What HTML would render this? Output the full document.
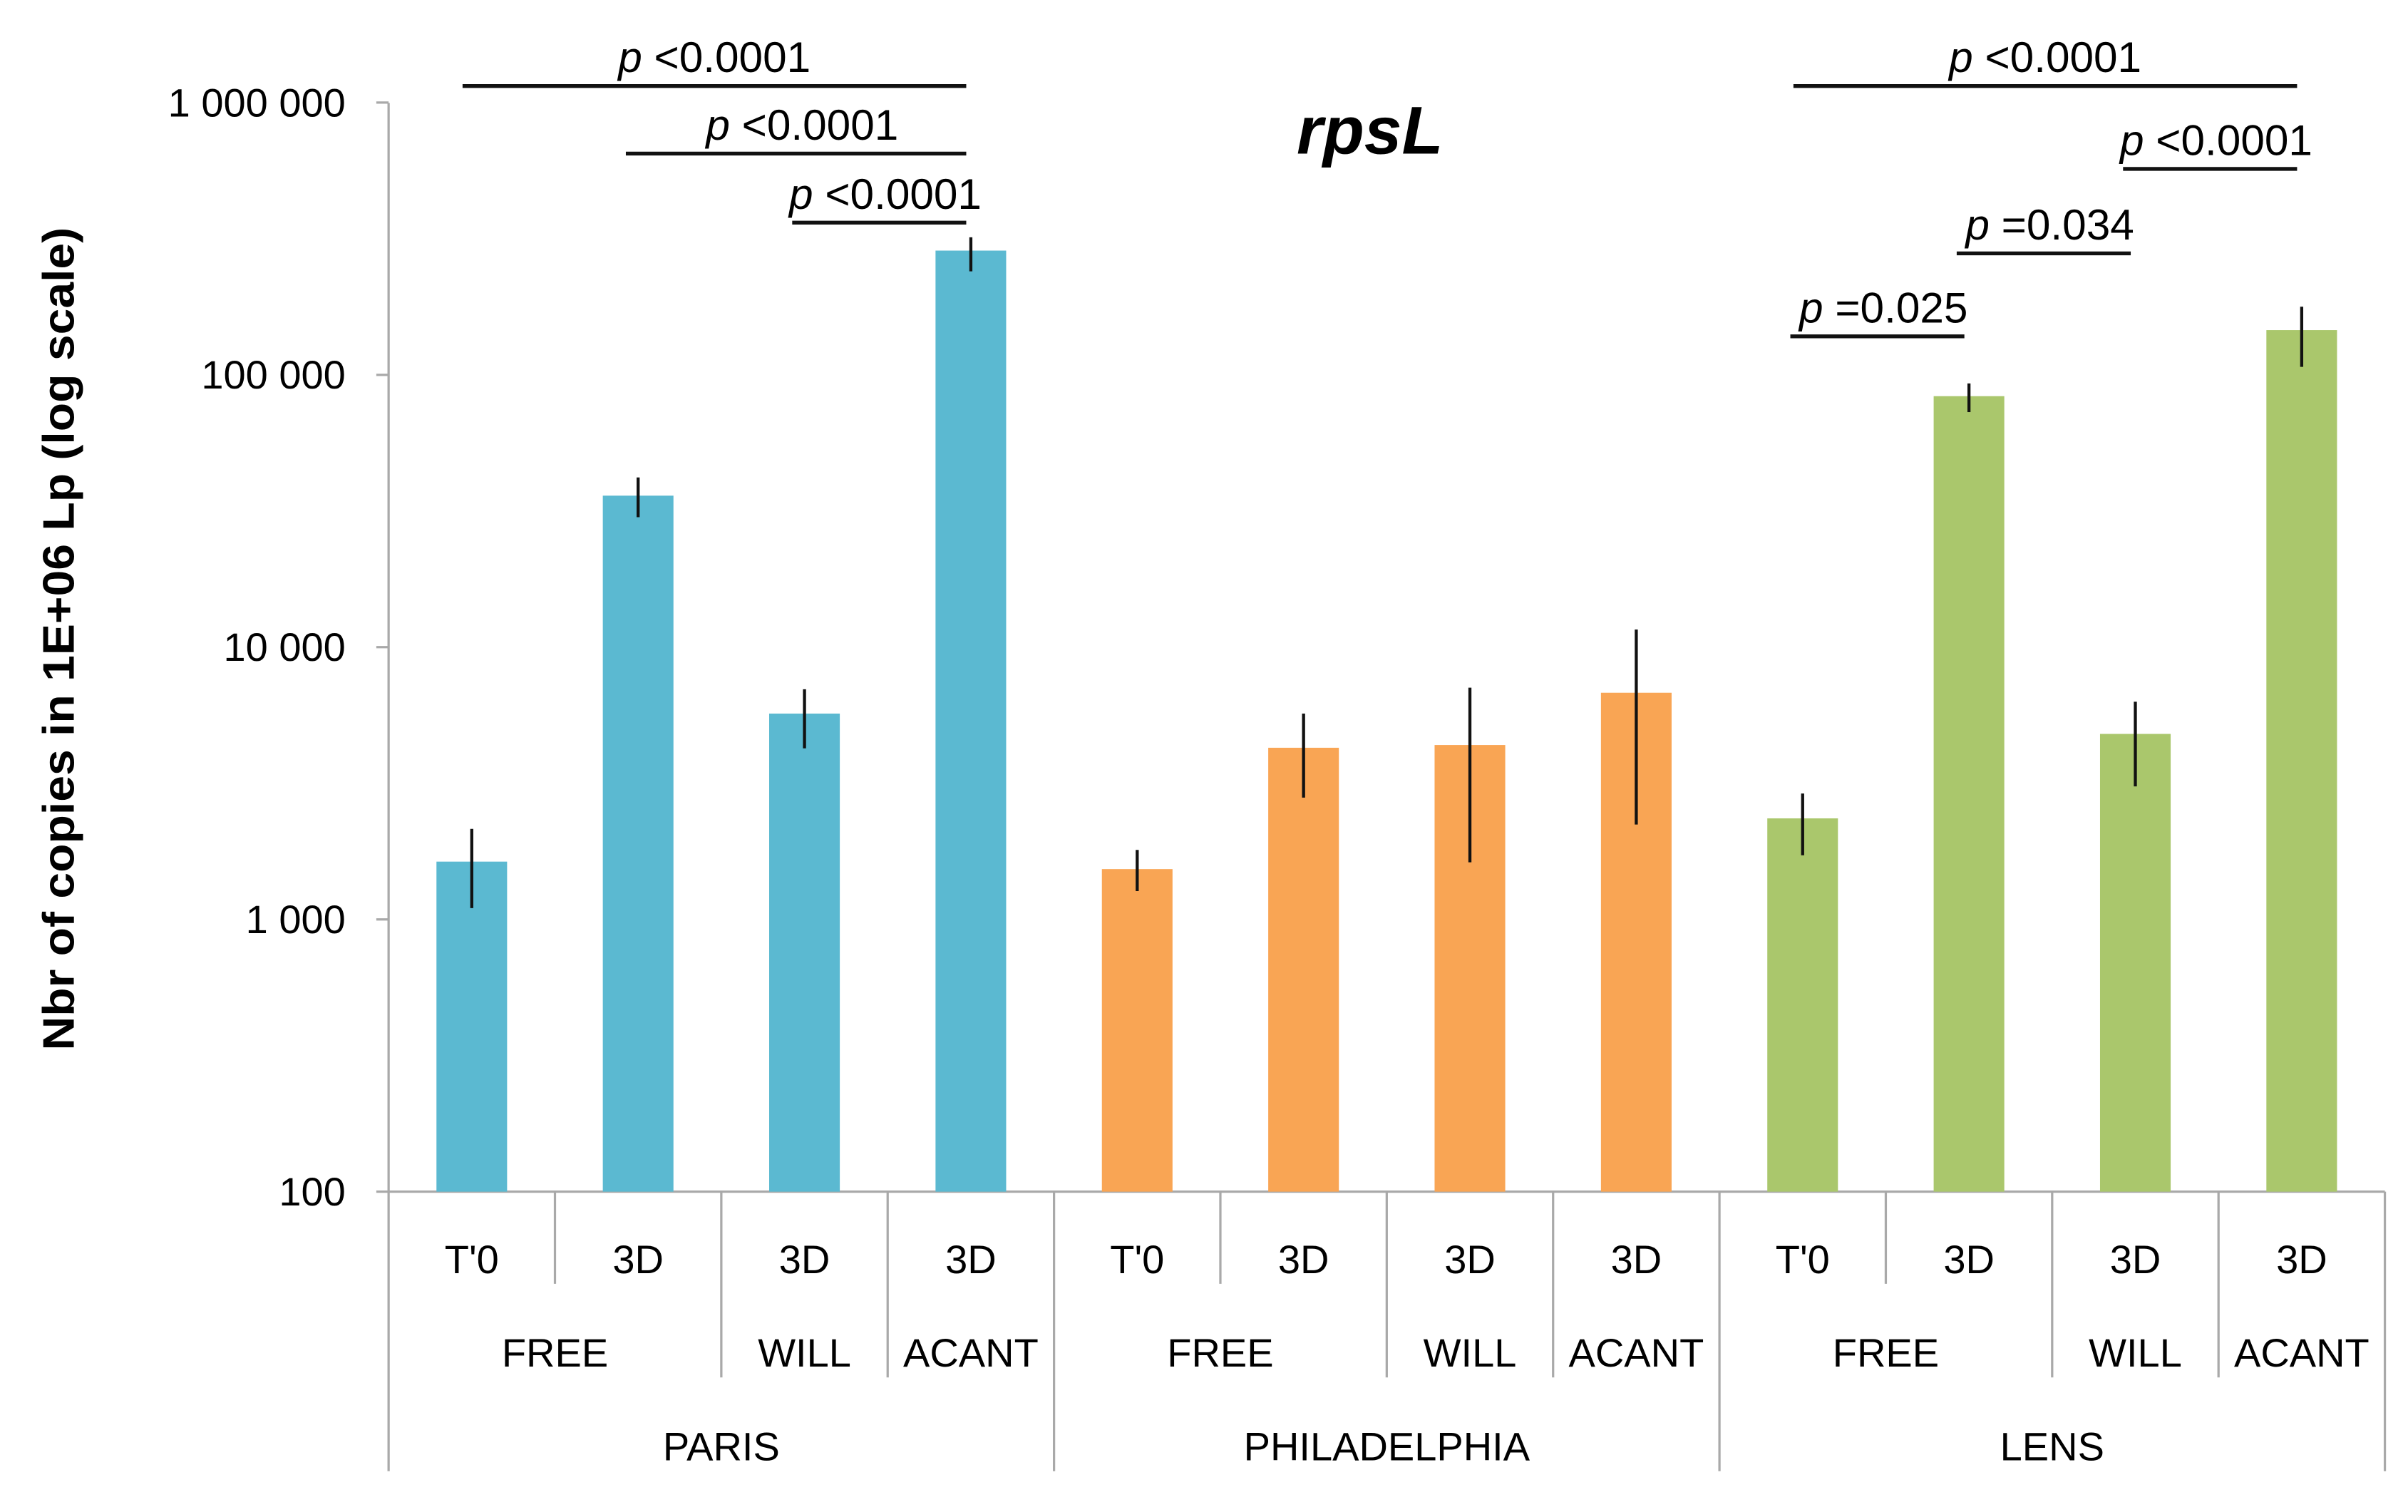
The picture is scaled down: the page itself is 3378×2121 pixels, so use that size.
<!DOCTYPE html>
<html><head><meta charset="utf-8"><style>
html,body{margin:0;padding:0;background:#fff;}
svg{display:block;}
text{font-family:"Liberation Sans",sans-serif;}
</style></head><body>
<svg id="chart" width="3378" height="2121" viewBox="0 0 1568 984.6" xmlns="http://www.w3.org/2000/svg">
<text x="892" y="100" font-size="44" font-weight="bold" font-style="italic" text-anchor="middle">rpsL</text>
<text transform="translate(48,416) rotate(-90)" font-size="29" font-weight="bold" text-anchor="middle" textLength="536" lengthAdjust="spacingAndGlyphs">Nbr of copies in 1E+06 Lp (log scale)</text>
<g id="axes"></g><g id="bars"></g><g id="sig"></g>
</svg>
<script>
const categories = ["T'0","3D","3D","3D","T'0","3D","3D","3D","T'0","3D","3D","3D"];
const subgroups = [["FREE",2],["WILL",1],["ACANT",1],["FREE",2],["WILL",1],["ACANT",1],["FREE",2],["WILL",1],["ACANT",1]];
const groups = [["PARIS",4],["PHILADELPHIA",4],["LENS",4]];
const values = [1630,36000,5700,286000,1530,4270,4370,6800,2350,83500,4800,146000];
const errHi = [2150,42000,7000,320000,1800,5700,7100,11600,2900,93000,6300,178000];
const errLo = [1100,30000,4250,240000,1270,2800,1620,2230,1720,73000,3080,107000];
const colors = ["#5BB9D1","#5BB9D1","#5BB9D1","#5BB9D1","#F9A554","#F9A554","#F9A554","#F9A554","#AAC76C","#AAC76C","#AAC76C","#AAC76C"];
const yTicks = [100,1000,10000,100000,1000000];
const yTickLabels = ["100","1 000","10 000","100 000","1 000 000"];
const sigFrom = [0,1,2,8,10,9,8];
const sigTo = [3,3,3,11,11,10,9];
const sigLabels = ["p <0.0001","p <0.0001","p <0.0001","p <0.0001","p <0.0001","p =0.034","p =0.025"];
const sigY = [56,100,145,56,110,165,219];

const NS="http://www.w3.org/2000/svg";
const x0=253,x1=1553,yBase=776,decade=177.3;
const cw=(x1-x0)/categories.length;
const yS=v=>yBase-(Math.log10(v)-2)*decade;
const xC=i=>x0+cw*(i+0.5);
function mk(tag,attrs,parent,txt){const e=document.createElementNS(NS,tag);for(const k in attrs)e.setAttribute(k,attrs[k]);if(txt!==undefined)e.textContent=txt;parent.appendChild(e);return e;}
const axes=document.getElementById('axes'),bars=document.getElementById('bars'),sig=document.getElementById('sig');
const gray="#A9A9A9";
let e=mk('line',{x1:x0,y1:67,x2:x0,y2:958,stroke:gray,'stroke-width':1.5},axes);


e=mk('line',{x1:x0,y1:yBase,x2:x1,y2:yBase,stroke:gray,'stroke-width':1.5},axes);


e=mk('line',{x1:x1,y1:yBase,x2:x1,y2:958,stroke:gray,'stroke-width':1.5},axes);


yTicks.forEach((t,i)=>{
  const y=yS(t);
  let l=mk('line',{x1:x0-8,y1:y,x2:x0,y2:y,stroke:gray,'stroke-width':1.5},axes);
  
  
  let tx=mk('text',{x:225,y:y+9,'font-size':26,'text-anchor':'end'},axes,yTickLabels[i]);
  
  
});
const subEnds=[],grpEnds=[];
let acc=0;subgroups.forEach(s=>{acc+=s[1];subEnds.push(acc);});
acc=0;groups.forEach(g=>{acc+=g[1];grpEnds.push(acc);});
categories.forEach((c,i)=>{
  let tx=mk('text',{x:xC(i),y:829,'font-size':26,'text-anchor':'middle'},axes,c);
  
  
  const b=i+1;if(b>=categories.length)return;
  let yEnd=836;
  if(subEnds.includes(b))yEnd=897;
  if(grpEnds.includes(b))yEnd=958;
  let l=mk('line',{x1:x0+cw*b,y1:yBase,x2:x0+cw*b,y2:yEnd,stroke:gray,'stroke-width':1.5},axes);
  
  
});
acc=0;subgroups.forEach(s=>{
  let tx=mk('text',{x:x0+cw*(acc+s[1]/2),y:890,'font-size':26,'text-anchor':'middle'},axes,s[0]);
  
  
  acc+=s[1];
});
acc=0;groups.forEach(g=>{
  let tx=mk('text',{x:x0+cw*(acc+g[1]/2),y:951,'font-size':26,'text-anchor':'middle'},axes,g[0]);
  
  
  acc+=g[1];
});
const bw=46;
values.forEach((v,i)=>{
  const y=yS(v);
  let r=mk('rect',{x:xC(i)-bw/2,y:y,width:bw,height:yBase-y,fill:colors[i]},bars);
  
  
  let l=mk('line',{x1:xC(i),y1:yS(errHi[i]),x2:xC(i),y2:yS(errLo[i]),stroke:'#111','stroke-width':2},bars);
  
  
});
sigLabels.forEach((s,k)=>{
  const a=sigFrom[k],b=sigTo[k];
  const full=(b-a)>=3;
  const xa=full?xC(a)-6:xC(a)-8, xb=xC(b)-3;
  const y=sigY[k];
  let l=mk('line',{x1:xa,y1:y,x2:xb,y2:y,stroke:'#111','stroke-width':2.5},sig);
  
  
  const cx=full?(xa+xb)/2:(xa+xb)/2+4;
  let t=mk('text',{x:cx,y:y-9,'font-size':28,'text-anchor':'middle'},sig);
  
  
  const ts=document.createElementNS(NS,'tspan');ts.setAttribute('font-style','italic');ts.textContent='p';t.appendChild(ts);
  t.appendChild(document.createTextNode(' '+s.slice(2)));
});
</script>
</body></html>
